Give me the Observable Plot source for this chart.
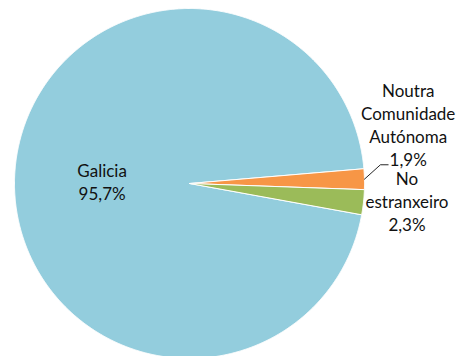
<!DOCTYPE html>
<html>
<head>
<meta charset="utf-8">
<script src="https://cdn.jsdelivr.net/npm/d3@7"></script>
<script src="https://cdn.jsdelivr.net/npm/@observablehq/plot@0.6"></script>
<style>
  html, body { margin: 0; padding: 0; background: #fff; }
  #chart { width: 462px; height: 356px; }
</style>
</head>
<body>
<div id="chart"></div>
<script>
// ---- data ----
const names = ["Galicia", "Noutra Comunidade Autónoma", "No estranxeiro"];
const shares = [95.7, 1.9, 2.3];
const labels = ["Galicia\n95,7%", "Noutra\nComunidade\nAutónoma\n1,9%", "No\nestranxeiro\n2,3%"];

// ---- style / layout ----
const colors = ["#93CDDD", "#F79646", "#9BBB59"];
const W = 462, H = 356, CX = 189, CY = 183, R = 175;
const startDeg = 100.3;
const font = "Lato, 'Open Sans', sans-serif";

const table = names.map((name, i) => ({name, share: shares[i], label: labels[i]}));
const start = startDeg * Math.PI / 180;
const arcs = d3.pie().value(d => d.share).sort(null)
  .startAngle(start).endAngle(start + 2 * Math.PI)(table);

// polygon outline for each slice (center + arc samples), in radius units
const pts = [];
for (const a of arcs) {
  const n = Math.max(2, Math.ceil((a.endAngle - a.startAngle) / 0.005));
  pts.push({name: a.data.name, x: 0, y: 0});
  for (let k = 0; k <= n; k++) {
    const t = a.startAngle + (a.endAngle - a.startAngle) * k / n;
    pts.push({name: a.data.name, x: Math.sin(t), y: Math.cos(t)});
  }
  pts.push({name: a.data.name, x: 0, y: 0});
}

const mid = a => (a.startAngle + a.endAngle) / 2;
const labelR = [0.5, 1.25, 1.25];
const labelDy = [2, -12.5, -6];
const labelPts = arcs.map((a, i) => ({
  label: a.data.label,
  x: labelR[i] * Math.sin(mid(a)),
  y: labelR[i] * Math.cos(mid(a)),
  anchor: i === 1 ? "bottom" : "middle",
  dy: labelDy[i]
}));

// leader line for the small orange slice
const o = arcs[1];
const leader = [
  {x: Math.sin(mid(o)), y: Math.cos(mid(o))},
  {x: 1.091, y: 0.107},
  {x: 1.135, y: 0.107}
];

const plot = Plot.plot({
  width: W, height: H,
  margin: 0,
  style: {background: "#fff", fontFamily: font},
  x: {domain: [-CX / R, (W - CX) / R], axis: null},
  y: {domain: [-(H - CY) / R, CY / R], axis: null},
  color: {domain: names, range: colors},
  marks: [
    Plot.line(pts, {x: "x", y: "y", z: "name", fill: "name", stroke: "white", strokeWidth: 1, curve: "linear"}),
    Plot.line(leader, {x: "x", y: "y", stroke: "#262626", strokeWidth: 1}),
    ...labelPts.map(d => Plot.text([d], {
      x: "x", y: "y", text: "label",
      lineAnchor: d.anchor, dy: d.dy,
      fontSize: 17, lineHeight: 1.34,
      fill: "#111", textAnchor: "middle"
    }))
  ]
});
document.getElementById("chart").appendChild(plot);
</script>
</body>
</html>
